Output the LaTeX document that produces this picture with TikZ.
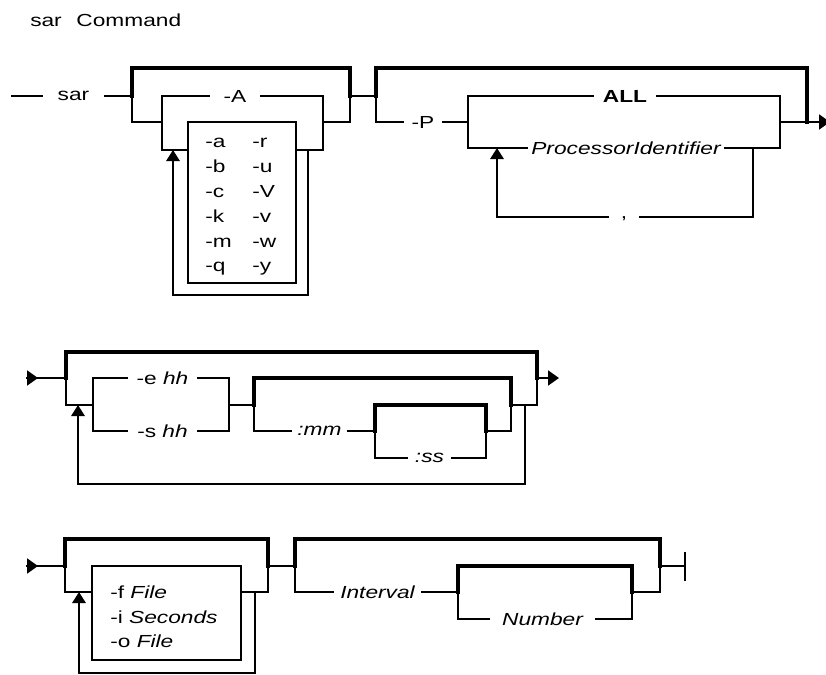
\documentclass[tikz,border=0pt]{standalone}
\usepackage{fontspec}
\setmainfont{Liberation Sans}[FakeStretch=1.3]
\usetikzlibrary{arrows.meta}
\tikzset{
  ln/.style={line width=1.5pt, line cap=rect, line join=miter},
  thk/.style={line width=3pt, line cap=rect, line join=miter},
  uparr/.style={-{Triangle[length=8.25pt,width=10pt]}},
  harr/.style={-{Triangle[length=8.25pt,width=11.25pt]}},
  txt/.style={inner sep=0pt, outer sep=0pt, text height=9pt, text depth=0pt},
  lowtxt/.style={inner sep=0pt, outer sep=0pt, text height=7pt, text depth=0pt},
  optbox/.style={draw, line width=1.5pt, inner sep=0pt, outer sep=0pt},
  item/.style={inner sep=0pt, anchor=base west}
}
\begin{document}
\begin{tikzpicture}[x=0.75pt, y=-0.75pt, font=\fontsize{13.1pt}{15pt}\selectfont]
\useasboundingbox (0,0) rectangle (826,675);

% title
\node[item] (title) at (30,26) {sar\hspace{11pt}Command};

% ---------------- Row 1 ----------------
\coordinate (r1start) at (12,96);
\node[lowtxt, minimum width=47.25pt] (sar) at (73.5,96) {sar};
\draw[ln] (r1start) -- (sar.west);
\draw[ln] (sar.east) -- (132,96);
% group 1
\draw[thk] (132,96) -- (132,68) -- (350,68) -- (350,96);
\draw[ln] (132,96) -- (132,122) -- (162,122);
\node[txt, minimum width=39pt] (A) at (235,96) {-A};
\draw[ln] (162,122) -- (162,96) -- (A.west);
\draw[ln] (A.east) -- (323,96) -- (323,150);
\node[optbox, minimum width=81pt, minimum height=120.75pt] (boxA) at (242,202.5) {};
\draw[ln] (162,122) -- (162,150) -- (188,150);
\draw[ln] (296,150) -- (323,150) -- (323,122) -- (350,122) -- (350,96);
\draw[ln, uparr] (308,150) -- (308,295) -- (173,295) -- (173,150);
\foreach \t/\u/\y [count=\i] in {a/r/147, b/u/172, c/V/197, k/v/222, m/w/247, q/y/271} {
  \node[item] (la\i) at (205,\y) {-\t};
  \node[item] (lb\i) at (252,\y) {-\u};
}
% group 2
\draw[ln] (350,96) -- (376,96);
\draw[thk] (376,96) -- (376,68) -- (807,68) -- (807,122);
\node[txt, minimum width=30pt] (P) at (423,122) {-P};
\draw[ln] (376,96) -- (376,122) -- (P.west);
\draw[ln] (P.east) -- (468,122);
\node[txt, minimum width=48pt] (ALL) at (625,96) {\bfseries ALL};
\node[txt, minimum width=148.5pt] (PI) at (626,148) {\itshape ProcessorIdentifier};
\draw[ln] (468,122) -- (468,96) -- (ALL.west);
\draw[ln] (ALL.east) -- (780,96) -- (780,148) -- (PI.east);
\draw[ln] (PI.west) -- (468,148) -- (468,122);
\node[inner sep=0pt, text height=2pt, text depth=0pt, minimum width=24pt] (comma) at (624,217) {,};
\draw[ln] (753,148) -- (753,217) -- (comma.east);
\draw[ln, uparr] (comma.west) -- (497,217) -- (497,148);
\coordinate (r1end) at (830,122);
\draw[ln, harr] (780,122) -- (r1end);

% ---------------- Row 2 ----------------
\coordinate (r2start) at (27,378);
\draw[ln, harr] (r2start) -- (38,378);
\draw[ln] (38,378) -- (66,378);
\draw[thk] (66,378) -- (66,352) -- (537,352) -- (537,378);
\draw[ln] (66,378) -- (66,405) -- (93,405);
\node[txt, minimum width=53.25pt] (eh) at (162.5,378) {-e \textit{hh}};
\node[txt, minimum width=53.25pt] (sh) at (162.5,431) {-s \textit{hh}};
\draw[ln] (93,405) -- (93,378) -- (eh.west);
\draw[ln] (eh.east) -- (229,378) -- (229,431) -- (sh.east);
\draw[ln] (sh.west) -- (93,431) -- (93,405);
\draw[ln] (229,405) -- (254,405);
\draw[thk] (254,405) -- (254,378) -- (511,378) -- (511,405);
\node[lowtxt, minimum width=42.75pt] (mm) at (319.5,431) {\itshape :mm};
\draw[ln] (254,405) -- (254,431) -- (mm.west);
\draw[ln] (mm.east) -- (375,431);
\draw[thk] (375,431) -- (375,405) -- (486,405) -- (486,431);
\node[lowtxt, minimum width=33.75pt] (ss) at (429.5,458) {\itshape :ss};
\draw[ln] (375,431) -- (375,458) -- (ss.west);
\draw[ln] (ss.east) -- (486,458) -- (486,431) -- (511,431) -- (511,405) -- (537,405) -- (537,378);
\draw[ln, uparr] (525,405) -- (525,484) -- (78,484) -- (78,405);
\coordinate (r2end) at (559,378);
\draw[ln, harr] (537,378) -- (r2end);

% ---------------- Row 3 ----------------
\coordinate (r3start) at (27,566);
\draw[ln, harr] (r3start) -- (38,566);
\draw[ln] (38,566) -- (65,566);
\draw[thk] (65,566) -- (65,539) -- (268,539) -- (268,566);
\node[optbox, minimum width=111.75pt, minimum height=70.5pt] (boxF) at (166.5,613) {};
\draw[ln] (65,566) -- (65,592) -- (92,592);
\draw[ln] (241,592) -- (268,592) -- (268,566);
\draw[ln, uparr] (255,592) -- (255,673) -- (79,673) -- (79,592);
\node[item] (f1) at (110,598) {-f \textit{File}};
\node[item] (f2) at (110,623) {-i \textit{Seconds}};
\node[item] (f3) at (110,647) {-o \textit{File}};
\draw[ln] (268,566) -- (295,566);
\draw[thk] (295,566) -- (295,539) -- (660,539) -- (660,566);
\node[txt, minimum width=66.75pt] (int) at (377.5,592) {\itshape Interval};
\draw[ln] (295,566) -- (295,592) -- (int.west);
\draw[ln] (int.east) -- (458,592);
\draw[thk] (458,592) -- (458,566) -- (632,566) -- (632,592);
\node[txt, minimum width=80.25pt] (num) at (542.5,619) {\itshape Number};
\draw[ln] (458,592) -- (458,619) -- (num.west);
\draw[ln] (num.east) -- (632,619) -- (632,592) -- (660,592) -- (660,566);
\coordinate (r3end) at (685,566);
\draw[ln] (660,566) -- (r3end);
\draw[ln] (685,553) -- (685,580);
\end{tikzpicture}
\end{document}
